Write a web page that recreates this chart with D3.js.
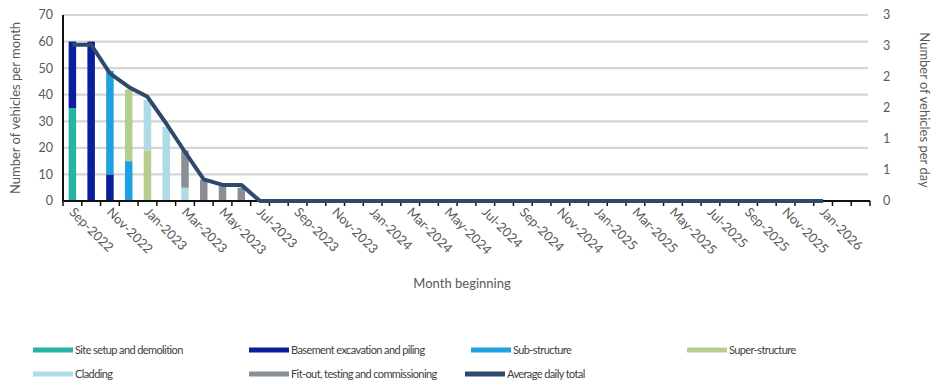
<!DOCTYPE html>
<html>
<head>
<meta charset="utf-8">
<script src="https://cdn.jsdelivr.net/npm/d3@7"></script>
<style>
  html, body { margin: 0; padding: 0; background: #fff; }
  svg { display: block; font-family: Lato, "Open Sans", sans-serif; }
</style>
</head>
<body>
<svg id="chart" width="936" height="385"></svg>
<script>
// Months from Sep-2022 to Mar-2026
const months = ["Sep-2022","Oct-2022","Nov-2022","Dec-2022","Jan-2023","Feb-2023","Mar-2023","Apr-2023","May-2023","Jun-2023","Jul-2023","Aug-2023","Sep-2023","Oct-2023","Nov-2023","Dec-2023","Jan-2024","Feb-2024","Mar-2024","Apr-2024","May-2024","Jun-2024","Jul-2024","Aug-2024","Sep-2024","Oct-2024","Nov-2024","Dec-2024","Jan-2025","Feb-2025","Mar-2025","Apr-2025","May-2025","Jun-2025","Jul-2025","Aug-2025","Sep-2025","Oct-2025","Nov-2025","Dec-2025","Jan-2026","Feb-2026","Mar-2026"];

// Labelled months on the category axis
const tickLabels = ["Sep-2022","Nov-2022","Jan-2023","Mar-2023","May-2023","Jul-2023","Sep-2023","Nov-2023","Jan-2024","Mar-2024","May-2024","Jul-2024","Sep-2024","Nov-2024","Jan-2025","Mar-2025","May-2025","Jul-2025","Sep-2025","Nov-2025","Jan-2026"];

// Vehicles per month by construction phase (Sep-2022 onward; later months are zero)
const siteSetup   = [35, 0, 0, 0, 0, 0, 0, 0, 0, 0];
const basement    = [25, 60, 10, 0, 0, 0, 0, 0, 0, 0];
const subStruct   = [0, 0, 39, 15, 0, 0, 0, 0, 0, 0];
const superStruct = [0, 0, 0, 27, 19, 0, 0, 0, 0, 0];
const cladding    = [0, 0, 0, 0, 19, 28, 5, 0, 0, 0];
const fitOut      = [0, 0, 0, 0, 0, 0, 14, 8, 6, 5];

// Average daily total (right axis), Sep-2022 to Jan-2026
const dailyAvg = [2.52, 2.52, 2.06, 1.84, 1.68, 1.25, 0.79, 0.35, 0.26, 0.26,
  0,0,0,0,0,0,0,0,0,0,0,0,0,0,0,0,0,0,0,0,0,0,0,0,0,0,0,0,0,0,0];

const leftTicks  = [0, 10, 20, 30, 40, 50, 60, 70];
const rightTicks = [0, 0.5, 1, 1.5, 2, 2.5, 3];

const phases = [
  { key: "Site setup and demolition", values: siteSetup, color: "#27b3a6" },
  { key: "Basement excavation and piling", values: basement, color: "#0b1f9c" },
  { key: "Sub-structure", values: subStruct, color: "#20a1df" },
  { key: "Super-structure", values: superStruct, color: "#b7cd8f" },
  { key: "Cladding", values: cladding, color: "#afdbe7" },
  { key: "Fit-out, testing and commissioning", values: fitOut, color: "#898f97" }
];
const lineColor = "#2d4a6c";

const svg = d3.select("#chart");
const W = 936;
const x0 = 63, x1 = W - 66;
const yBase = 201, yTop = 15;

const x = d3.scaleBand().domain(months).range([x0, x1]).paddingInner(0.6).paddingOuter(0.3);
const yL = d3.scaleLinear().domain([0, 70]).range([yBase, yTop]);
const yR = d3.scaleLinear().domain([0, 3]).range([yBase, yTop]);

// Gridlines
svg.append("g")
  .selectAll("line").data(leftTicks.slice(1)).join("line")
  .attr("x1", x0).attr("x2", x1 - 2)
  .attr("y1", d => yL(d)).attr("y2", d => yL(d))
  .attr("stroke", "#d6d6d6").attr("stroke-width", 2.2);

// Stacked bars
const rows = months.map((m, i) => {
  const r = { month: m };
  phases.forEach(p => r[p.key] = p.values[i] || 0);
  return r;
});
const stack = d3.stack().keys(phases.map(p => p.key))(rows);
svg.append("g").selectAll("g").data(stack).join("g")
  .attr("fill", (d, i) => phases[i].color)
  .selectAll("rect").data(d => d.filter(s => s[1] > s[0])).join("rect")
  .attr("x", d => x(d.data.month))
  .attr("width", x.bandwidth())
  .attr("y", d => yL(d[1]))
  .attr("height", d => yL(d[0]) - yL(d[1]));

// Axis lines and category boundary ticks
svg.append("line").attr("x1", x0).attr("x2", x1).attr("y1", yBase).attr("y2", yBase)
  .attr("stroke", "#111").attr("stroke-width", 2);
svg.append("line").attr("x1", x0).attr("x2", x0).attr("y1", yTop).attr("y2", yBase)
  .attr("stroke", "#111").attr("stroke-width", 2);
const bounds = d3.range(months.length + 1).map(i => x0 + (x1 - x0) * i / months.length);
svg.append("g").selectAll("line").data(bounds).join("line")
  .attr("x1", d => d).attr("x2", d => d).attr("y1", yBase).attr("y2", yBase + 5)
  .attr("stroke", "#111").attr("stroke-width", 1.5);

// Average daily total line
const center = m => x(m) + x.bandwidth() / 2;
svg.append("path")
  .datum(dailyAvg)
  .attr("fill", "none").attr("stroke", lineColor).attr("stroke-width", 4)
  .attr("stroke-linejoin", "round")
  .attr("d", d3.line().x((d, i) => center(months[i])).y(d => yR(d)));

// Left axis labels
svg.append("g").selectAll("text").data(leftTicks).join("text")
  .attr("x", 53).attr("y", d => yL(d)).attr("dy", "0.35em")
  .attr("text-anchor", "end").attr("font-size", 12.5).attr("fill", "#595959")
  .text(d => d);

// Right axis labels
svg.append("g").selectAll("text").data(rightTicks).join("text")
  .attr("x", 883).attr("y", d => yR(d)).attr("dy", "0.35em")
  .attr("text-anchor", "start").attr("font-size", 12.5).attr("fill", "#595959")
  .text(d => Math.round(d));

// Month labels, rotated
svg.append("g").selectAll("text").data(tickLabels).join("text")
  .attr("transform", d => `translate(${center(d) - 4},${yBase + 12}) rotate(45)`)
  .attr("text-anchor", "start").attr("font-size", 13).attr("fill", "#595959")
  .text(d => d);

// Axis titles
svg.append("text")
  .attr("transform", `translate(20,${(yTop + yBase) / 2}) rotate(-90)`)
  .attr("text-anchor", "middle").attr("font-size", 13).attr("fill", "#595959")
  .text("Number of vehicles per month");
svg.append("text")
  .attr("transform", `translate(920,${(yTop + yBase) / 2 + 2}) rotate(90)`)
  .attr("text-anchor", "middle").attr("font-size", 13).attr("fill", "#595959")
  .text("Number of vehicles per day");
svg.append("text")
  .attr("x", 462).attr("y", 288)
  .attr("text-anchor", "middle").attr("font-size", 13).attr("fill", "#595959")
  .text("Month beginning");

// Legend
const legendItems = phases.map(p => ({ key: p.key, color: p.color }))
  .concat([{ key: "Average daily total", color: lineColor }]);
const legendPos = [
  [33, 350], [249, 350], [471, 350], [687, 350],
  [33, 374], [249, 374], [465, 374]
];
const lg = svg.append("g").selectAll("g").data(legendItems).join("g")
  .attr("transform", (d, i) => `translate(${legendPos[i][0]},${legendPos[i][1]})`);
lg.append("rect").attr("x", 0).attr("y", -2.5).attr("width", 40).attr("height", 5)
  .attr("fill", d => d.color);
lg.append("text").attr("x", 42).attr("y", 0).attr("dy", "0.35em")
  .attr("font-size", 11).attr("letter-spacing", -0.6).attr("fill", "#404040")
  .text(d => d.key);
</script>
</body>
</html>
